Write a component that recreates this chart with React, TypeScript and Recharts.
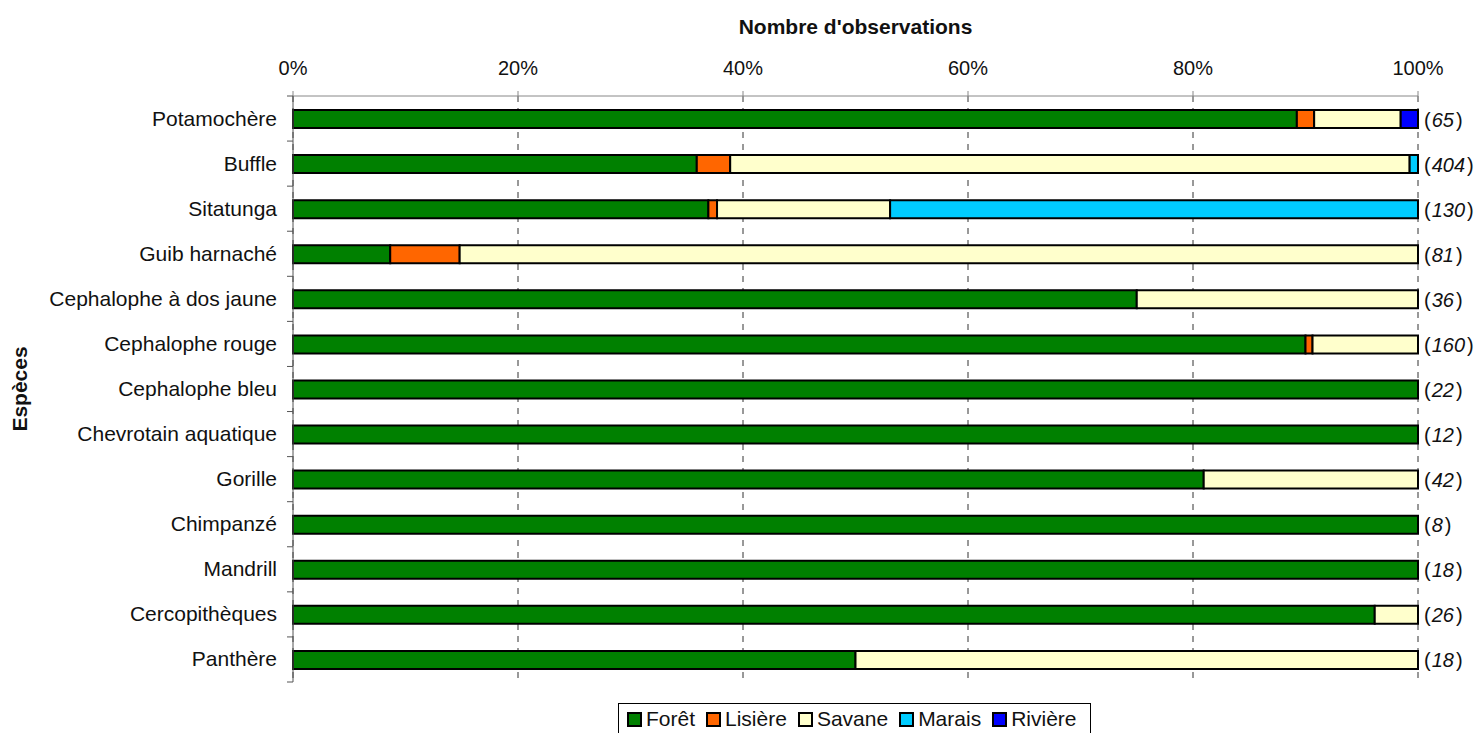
import React from 'react';
import { BarChart, Bar, XAxis, YAxis, CartesianGrid, Legend, Label } from 'recharts';

const species = [
  'Potamochère', 'Buffle', 'Sitatunga', 'Guib harnaché', 'Cephalophe à dos jaune',
  'Cephalophe rouge', 'Cephalophe bleu', 'Chevrotain aquatique', 'Gorille',
  'Chimpanzé', 'Mandrill', 'Cercopithèques', 'Panthère',
];
const foret = [58, 145, 48, 7, 27, 144, 22, 12, 34, 8, 18, 25, 9];
const lisiere = [1, 12, 1, 5, 0, 1, 0, 0, 0, 0, 0, 0, 0];
const savane = [5, 244, 20, 69, 9, 15, 0, 0, 8, 0, 0, 1, 9];
const marais = [0, 3, 61, 0, 0, 0, 0, 0, 0, 0, 0, 0, 0];
const riviere = [1, 0, 0, 0, 0, 0, 0, 0, 0, 0, 0, 0, 0];
const totals = [65, 404, 130, 81, 36, 160, 22, 12, 42, 8, 18, 26, 18];
const xTicks = [0, 0.2, 0.4, 0.6, 0.8, 1];

const SERIES = [
  { key: 'Forêt', color: '#008000' },
  { key: 'Lisière', color: '#FF6600' },
  { key: 'Savane', color: '#FFFFCC' },
  { key: 'Marais', color: '#00CCFF' },
  { key: 'Rivière', color: '#0000FF' },
];

const FONT = '"Liberation Sans", Arial, sans-serif';

const data = species.map((name, i) => ({
  name,
  'Forêt': foret[i],
  'Lisière': lisiere[i],
  'Savane': savane[i],
  'Marais': marais[i],
  'Rivière': riviere[i],
  n: totals[i],
}));

const BAND = 586 / species.length;

const SpeciesTick = (props: any) => {
  const { y, payload, index } = props;
  const ax = 293;
  return (
    <g>
      <text x={ax - 16} y={y} dy={7} textAnchor="end" fontSize={21} fill="#111" fontFamily={FONT}>
        {payload.value}
      </text>
      <line x1={ax - 6} x2={ax} y1={y - BAND / 2} y2={y - BAND / 2} stroke="#555" />
      {index === species.length - 1 && (
        <line x1={ax - 6} x2={ax} y1={y + BAND / 2} y2={y + BAND / 2} stroke="#555" />
      )}
    </g>
  );
};

const CountTick = (props: any) => {
  const { y, payload } = props;
  const i = species.indexOf(payload.value);
  return (
    <text x={1424} y={y} dy={8} textAnchor="start" fontSize={20} fill="#111" fontFamily={FONT}>
      <tspan>(</tspan>
      <tspan dx={1} fontStyle="italic">{totals[i]}</tspan>
      <tspan dx={2}>)</tspan>
    </text>
  );
};

const LegendBox = () => (
  <div
    style={{
      display: 'inline-flex',
      alignItems: 'center',
      border: '1px solid #000',
      padding: '3px 2px 3px 8px',
      fontFamily: FONT,
      fontSize: 21,
      color: '#111',
      background: '#fff',
      whiteSpace: 'nowrap',
    }}
  >
    {SERIES.map(s => (
      <span key={s.key} style={{ display: 'inline-flex', alignItems: 'center', marginRight: 11 }}>
        <span
          style={{
            display: 'inline-block',
            width: 11,
            height: 11,
            background: s.color,
            border: '2px solid #000',
            marginRight: 4,
          }}
        />
        {s.key}
      </span>
    ))}
  </div>
);

export default function App() {
  return (
    <div style={{ position: 'absolute', left: 0, top: 0, width: 1480, height: 733, background: '#fff', overflow: 'hidden' }}>
      <BarChart
        width={1480}
        height={733}
        data={data}
        layout="vertical"
        stackOffset="expand"
        barSize={18}
        margin={{ top: 0, right: 0, bottom: 51, left: 0 }}
      >
        <CartesianGrid horizontal={false} stroke="#333" strokeDasharray="6 6" />
        <XAxis
          type="number"
          orientation="top"
          height={96}
          domain={[0, 1]}
          ticks={xTicks}
          tickFormatter={(v: number) => `${Math.round(v * 100)}%`}
          tick={{ fontSize: 20, fill: '#111', fontFamily: FONT }}
          tickSize={5}
          tickMargin={16}
          axisLine={{ stroke: '#888' }}
          tickLine={{ stroke: '#888' }}
        >
          <Label
            content={(p: any) => (
              <text
                x={p.viewBox.x + p.viewBox.width / 2}
                y={34}
                textAnchor="middle"
                fontSize={21}
                fontWeight="bold"
                fontFamily={FONT}
                fill="#111"
              >
                Nombre d'observations
              </text>
            )}
          />
        </XAxis>
        <YAxis
          type="category"
          dataKey="name"
          width={293}
          axisLine={{ stroke: '#555' }}
          tickLine={false}
          tick={<SpeciesTick />}
          interval={0}
        >
          <Label
            content={() => (
              <text
                x={27}
                y={389}
                transform="rotate(-90 27 389)"
                textAnchor="middle"
                fontSize={21}
                fontWeight="bold"
                fontFamily={FONT}
                fill="#111"
              >
                Espèces
              </text>
            )}
          />
        </YAxis>
        <YAxis
          yAxisId="r"
          type="category"
          dataKey="name"
          orientation="right"
          width={62}
          axisLine={false}
          tickLine={false}
          tick={<CountTick />}
          interval={0}
        />
        {SERIES.map(s => (
          <Bar
            key={s.key}
            dataKey={s.key}
            stackId="a"
            fill={s.color}
            stroke="#000"
            strokeWidth={2}
            isAnimationActive={false}
          />
        ))}
        <Legend
          verticalAlign="middle"
          content={() => <LegendBox />}
          wrapperStyle={{ top: 703, left: 618, width: 'auto', bottom: 'auto' }}
        />
      </BarChart>
    </div>
  );
}
